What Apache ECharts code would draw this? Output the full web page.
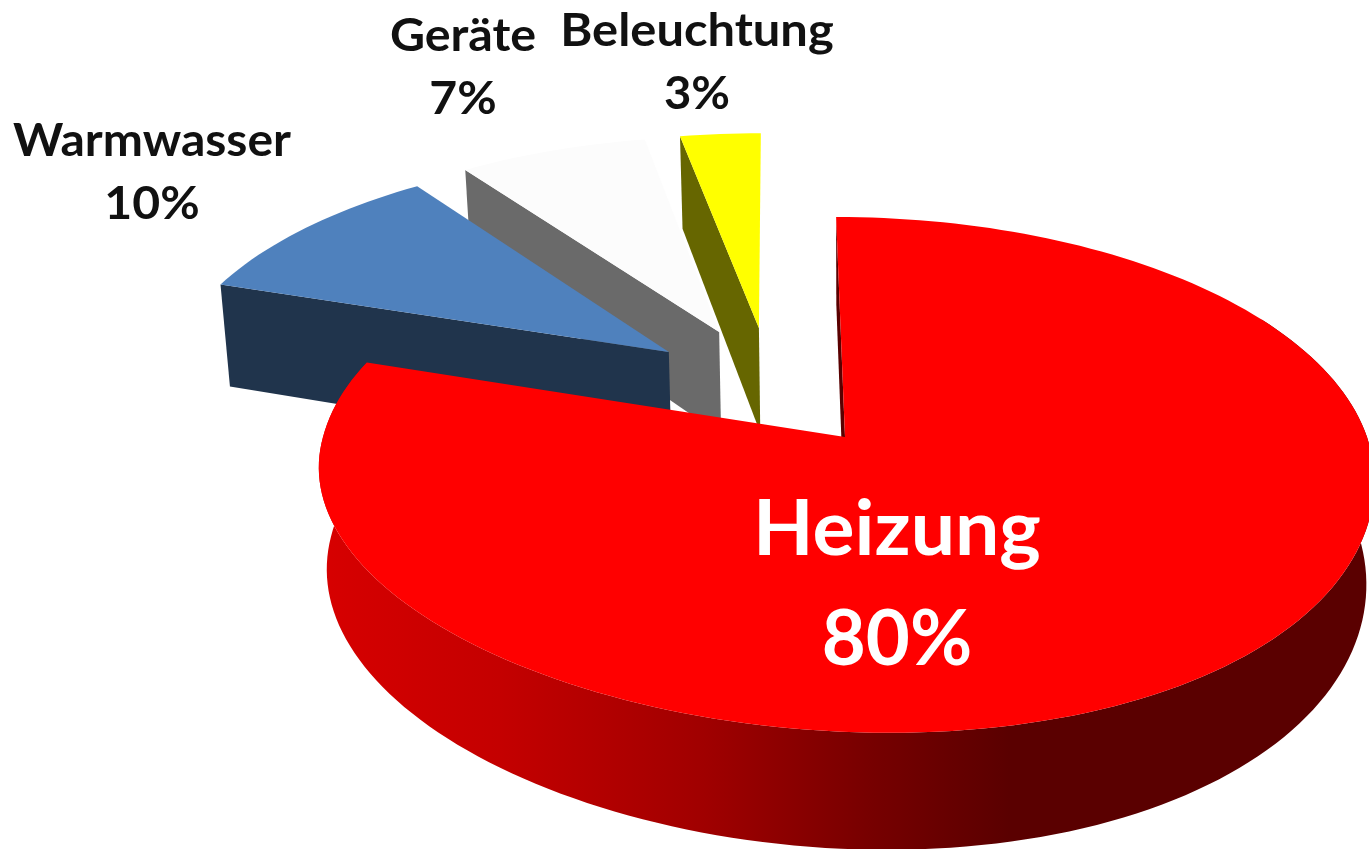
<!DOCTYPE html>
<html>
<head>
<meta charset="utf-8">
<style>html,body{margin:0;padding:0;background:#fff}#c{width:1369px;height:849px}</style>
<script src="https://cdn.jsdelivr.net/npm/echarts@6/dist/echarts.min.js"></script>
</head>
<body>
<div id="c"></div>
<script>
// Data
const categories = ['Heizung', 'Warmwasser', 'Geräte', 'Beleuchtung'];
const shares = [80, 10, 7, 3];

// Styling and projection config (not data)
const topColors = ['#ff0000', '#4f81bd', '#fcfcfc', '#ffff00'];
const wallColors = ['#5a0000', '#20344c', '#6a6a6a', '#666600'];
const explodeX = [0, -0.348, -0.248, -0.167];
const explodeY = [0, -0.355, -0.444, -0.462];
const thickness = [100, 112, 110, 112];
const labelX = [897, 152, 463, 697];
const labelY = [[530, 640], [141, 204], [36, 99], [31, 94]];
const labelSize = [76, 45, 45, 45];
const labelStretch = [[1.035, 1], [1.066, 1.07], [1.075, 1.07], [1.085, 1.05]];
const labelColor = ['#ffffff', '#111111', '#111111', '#111111'];
const view = {vpx: 775, cy: 437, cxOff: 70, rx: 522, ry: 252, k: 0.1456,
  shrink: 0.985, shrinkX: 850, skew: 0.03, skewX: 845};

const total = shares.reduce((a, b) => a + b, 0);

function project(X, Y, h) {
  const f = 1 / (1 - view.k * Y);
  let x = view.vpx + (view.cxOff + view.rx * X) * f;
  let y = view.cy + view.ry * Y * f + view.skew * (x - view.skewX) * Math.max(Y, 0);
  if (h) {
    x = view.shrinkX + (x - view.shrinkX) * view.shrink;
    y += h * f;
  }
  return [x, y];
}

function rimPoint(i, deg, h) {
  const a = deg * Math.PI / 180;
  return project(explodeX[i] + Math.sin(a), explodeY[i] - Math.cos(a), h);
}

function arcPoints(i, from, to, h) {
  const pts = [];
  const n = Math.max(2, Math.ceil(Math.abs(to - from) / 1.5));
  for (let s = 0; s <= n; s++) pts.push(rimPoint(i, from + (to - from) * s / n, h));
  return pts;
}

function renderItem(params, api) {
  const i = api.value(1);
  let before = 0;
  for (let j = 0; j < i; j++) before += shares[j];
  const start = before / total * 360;
  const end = (before + api.value(0)) / total * 360;
  const h = thickness[i];
  const base = (shares.length - i) * 10;
  const apex = project(explodeX[i], explodeY[i], 0);
  const apexLow = project(explodeX[i], explodeY[i], h);
  const children = [];

  // cut face
  const p = rimPoint(i, start, 0), q = rimPoint(i, start, h);
  children.push({type: 'polygon', z2: base, shape: {points: [apex, p, q, apexLow]},
    style: {fill: wallColors[i]}});

  // front rim of the big slice
  if (i === 0) {
    const from = Math.max(start, 60);
    const top = arcPoints(i, from, end, 0);
    const low = arcPoints(i, from, end, h).reverse();
    children.push({type: 'polygon', z2: base + 1, shape: {points: top.concat(low)},
      style: {fill: new echarts.graphic.LinearGradient(330, 0, 1010, 0, [
        {offset: 0, color: '#d60000'},
        {offset: 0.25, color: '#c40000'},
        {offset: 0.55, color: '#a00000'},
        {offset: 0.8, color: '#760000'},
        {offset: 1, color: '#5a0000'}
      ], true)}});
  }

  // top surface
  children.push({type: 'polygon', z2: base + 2,
    shape: {points: [apex].concat(arcPoints(i, start, end, 0))},
    style: {fill: topColors[i]}});

  // labels
  [categories[i], api.value(0) + '%'].forEach(function (t, k) {
    children.push({type: 'text', z2: 200, x: labelX[i], y: labelY[i][k],
      scaleX: labelStretch[i][k],
      style: {text: t, fill: labelColor[i], align: 'center', verticalAlign: 'middle',
        font: '700 ' + labelSize[i] + 'px Lato'}});
  });
  return {type: 'group', children: children};
}

const chart = echarts.init(document.getElementById('c'), null, {renderer: 'canvas'});
chart.setOption({
  animation: false,
  backgroundColor: '#ffffff',
  series: [{
    type: 'custom',
    coordinateSystem: 'none',
    renderItem: renderItem,
    silent: true,
    clip: false,
    data: shares.map((v, i) => ({name: categories[i], value: [v, i]}))
  }]
});
</script>
</body>
</html>
